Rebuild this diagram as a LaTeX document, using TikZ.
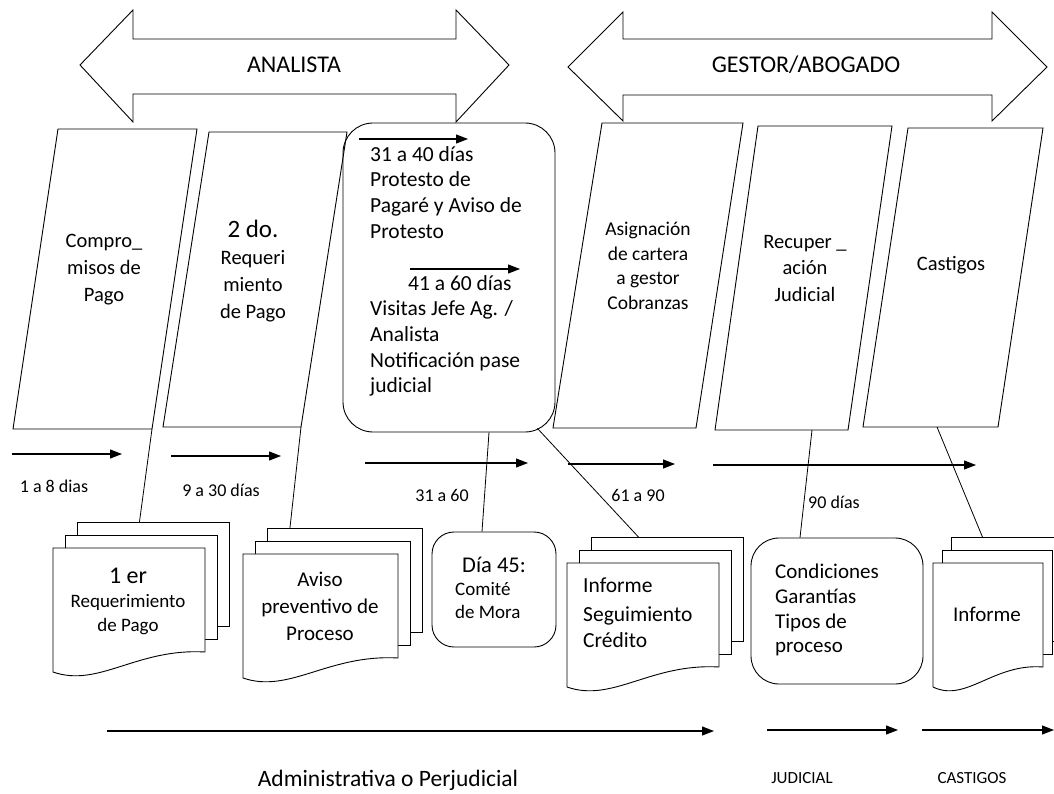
\documentclass[tikz,border=0pt]{standalone}
\usepackage{fontspec}
\setmainfont{Carlito}
\usetikzlibrary{arrows.meta}

\tikzset{
  slantbox/.style={draw, line width=0.9pt, line join=miter},
  roundbox/.style={rectangle, draw, line width=0.9pt, inner sep=0pt},
  sheet/.style={rectangle, draw, fill=white, line width=0.9pt, inner sep=0pt, anchor=north west},
  timearrow/.style={-{Triangle[length=12pt,width=9pt]}, line width=1.1pt},
  linkline/.style={line width=0.8pt},
  bandarrow/.style={draw, line width=0.9pt, line join=miter},
  boxtext/.style={align=center, inner sep=0pt, font=\fontsize{20.5}{27}\selectfont},
  notetext/.style={align=left, inner sep=0pt, anchor=north west, font=\fontsize{21.5}{25.7}\selectfont},
  daytext/.style={inner sep=0pt, font=\fontsize{18}{22}\selectfont},
  phasetext/.style={inner sep=0pt, font=\fontsize{17}{20}\selectfont},
  roletext/.style={inner sep=0pt, font=\fontsize{24}{28}\selectfont},
}

% stack of three sheets: name, front top left, width, step
\newcommand{\docstack}[4]{%
  \begin{scope}[shift={#2}]
    \node[sheet, minimum width=#3pt, minimum height=104pt] (#1b) at (2*#4,-26) {};
    \node[sheet, minimum width=#3pt, minimum height=104pt] (#1m) at (#4,-13) {};
    \draw[fill=white, line width=0.9pt] (0,0) -- (#3,0) -- (#3,104)
      .. controls ({0.55*#3},100) and ({0.3*#3},140) .. (0,124) -- cycle;
  \end{scope}}

\begin{document}
\begin{tikzpicture}[x=1pt, y=-1pt]
  \useasboundingbox (0,0) rectangle (1054,794);
  \clip (0,0) rectangle (1054,794);

  % roles
  \draw[bandarrow] (80,65) -- (133,10) -- (133,39) -- (456,39) -- (456,10) -- (509,65)
    -- (456,122) -- (456,94) -- (133,94) -- (133,122) -- cycle;
  \node[roletext] (analista) at (294,65) {ANALISTA};
  \draw[bandarrow] (568,67) -- (623,12) -- (623,39) -- (992,39) -- (992,12) -- (1047,67)
    -- (992,121) -- (992,95) -- (623,95) -- (623,121) -- cycle;
  \node[roletext] (gestor) at (806,65) {GESTOR/ABOGADO};

  % stages
  \draw[slantbox] (58,129) -- (197,129) -- (152,429) coordinate (b1-br) -- (13,429) -- cycle;
  \draw[slantbox] (209,132) -- (347,132) -- (301,427) coordinate (b2-br) -- (163,427) -- cycle;
  \node[roundbox, rounded corners=30pt, minimum width=212pt, minimum height=309pt] (plazo) at (449,277.5) {};
  \draw[slantbox] (602,123) -- (743,123) -- (696,428) coordinate (b4-br) -- (553,428) -- cycle;
  \draw[slantbox] (758,126) -- (892,126) -- (848,430) coordinate (b5-br) -- (715,430) -- cycle;
  \draw[slantbox] (908,128) -- (1043,128) -- (998,427) coordinate (b6-br) -- (863,427) -- cycle;

  \node[boxtext] (b1t) at (104,270) {Compro\_\\misos de\\Pago};
  \node[boxtext] (b2t) at (253,271) {{\fontsize{25}{27}\selectfont 2 do.}\\Requeri\\miento\\de Pago};
  \node[boxtext, font=\fontsize{19.5}{24.5}\selectfont] (b4t) at (648,266) {Asignación\\de cartera\\a gestor\\Cobranzas};
  \node[boxtext, font=\fontsize{20.5}{26.5}\selectfont] (b5t) at (805,268) {Recuper \_\\ación\\Judicial};
  \node[boxtext] (b6t) at (951,265) {Castigos};

  \node[notetext] (notaA) at (370,146) {31 a 40 días\\Protesto de\\Pagaré y Aviso de\\Protesto};
  \node[notetext] (notaB) at (370,275) {\hspace*{38pt}41 a 60 días\\Visitas Jefe Ag. /\\Analista\\Notificación pase\\judicial};
  \coordinate (pA-s) at (359,139);
  \coordinate (pA-e) at (468,139);
  \coordinate (pB-s) at (410,269);
  \coordinate (pB-e) at (520,269);
  \draw[timearrow] (pA-s) -- (pA-e);
  \draw[timearrow] (pB-s) -- (pB-e);

  % days
  \foreach \n/\xa/\xb/\ya/\lx/\ly/\txt in {
      1/12/122/454/54/486/1 a 8 dias,
      2/171/281/456/221/490/9 a 30 días,
      3/365/528/463/442/495/31 a 60,
      4/568/675/464/638/495/61 a 90,
      5/713/976/465/834/502/90 días}{
    \coordinate (t\n-s) at (\xa,\ya);
    \coordinate (t\n-e) at (\xb,\ya);
    \draw[timearrow] (t\n-s) -- (t\n-e);
    \node[daytext] (t\n-lab) at (\lx,\ly) {\txt};
  }

  % documents
  \docstack{d1}{(53,548)}{152}{12}
  \docstack{d2}{(243,554)}{155}{12}
  \docstack{d3}{(567,563)}{152}{12}
  \docstack{d4}{(933,563)}{110}{9}

  \node[boxtext, font=\fontsize{19}{24}\selectfont] (d1t) at (128,601) {{\fontsize{24}{24}\selectfont 1 er}\\Requerimiento\\de Pago};
  \node[boxtext, font=\fontsize{21}{27}\selectfont] (d2t) at (320,606) {Aviso\\preventivo de\\Proceso};
  \node[notetext] (d3t) at (583,578) {Informe\\[3pt]Seguimiento\\Crédito};
  \node[boxtext, font=\fontsize{21}{25}\selectfont] (d4t) at (987,614) {Informe};

  \node[roundbox, rounded corners=22pt, minimum width=124pt, minimum height=115pt] (dia) at (494,589.5) {};
  \node[notetext, font=\fontsize{19}{23}\selectfont] (diat) at (455,557) {\hspace*{7pt}{\fontsize{22.5}{23}\selectfont Día 45:}\\Comité\\de Mora};
  \node[roundbox, rounded corners=28pt, minimum width=172pt, minimum height=146pt] (cond) at (837,611) {};
  \node[notetext, font=\fontsize{21}{24.7}\selectfont] (condt) at (775,564) {Condiciones\\Garantías\\Tipos de\\proceso};

  % links
  \draw[linkline] (b1-br) -- ([xshift=-14pt]d1b.north);
  \draw[linkline] (b2-br) -- ([xshift=-55pt]d2b.north);
  \draw[linkline] ([xshift=40pt]plazo.south) -- ([xshift=-12pt]dia.north);
  \draw[linkline] ([xshift=-18pt,yshift=4pt]plazo.south east) -- ([xshift=-29pt]d3b.north);
  \draw[linkline] ([xshift=-36pt]b5-br) -- ([xshift=-37pt]cond.north);
  \draw[linkline] ([xshift=-61pt]b6-br) -- ([xshift=-24pt]d4b.north);

  % phases
  \coordinate (ph1-s) at (107,731);
  \coordinate (ph1-e) at (714,731);
  \coordinate (ph2-s) at (767,730);
  \coordinate (ph2-e) at (898,730);
  \coordinate (ph3-s) at (922,730);
  \coordinate (ph3-e) at (1054,730);
  \draw[timearrow] (ph1-s) -- (ph1-e);
  \draw[timearrow] (ph2-s) -- (ph2-e);
  \draw[timearrow] (ph3-s) -- (ph3-e);
  \node[inner sep=0pt, font=\fontsize{23.5}{26}\selectfont] (adm) at (388,780) {Administrativa o Perjudicial};
  \node[phasetext] (jud) at (802,778) {JUDICIAL};
  \node[phasetext] (cas) at (972,778) {CASTIGOS};
\end{tikzpicture}
\end{document}
